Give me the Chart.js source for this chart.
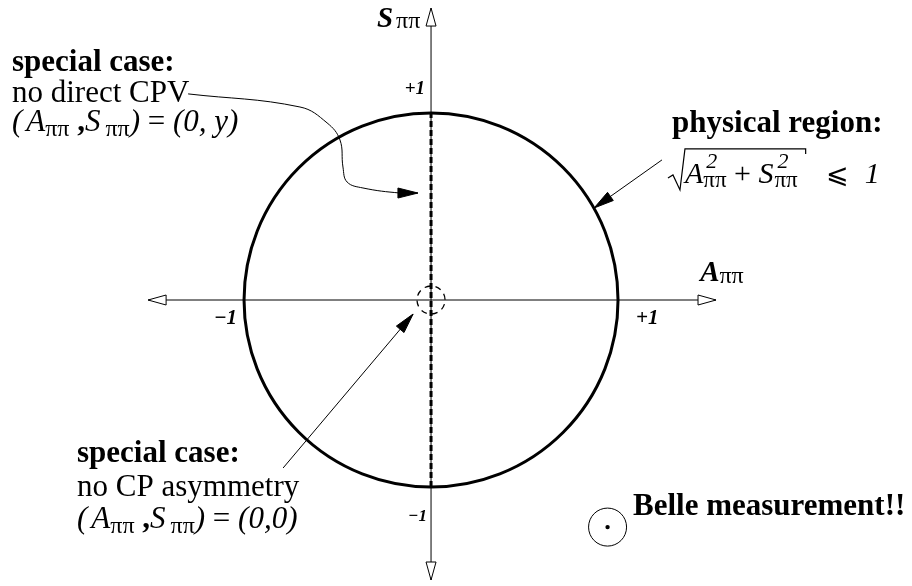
<!DOCTYPE html>
<html>
<head>
<meta charset="utf-8">
<title>A_pipi vs S_pipi</title>
<script src="https://cdn.jsdelivr.net/npm/chart.js@4.4.1/dist/chart.umd.min.js"></script>
<style>
  html, body { margin: 0; padding: 0; background: #fff; }
  #wrap { width: 912px; height: 586px; position: relative; }
</style>
</head>
<body>
<div id="wrap"><canvas id="chart"></canvas></div>
<script>
// ---- data (A_pipi on x, S_pipi on y) ----
const physicalRadius = 1;                 // sqrt(A^2 + S^2) <= 1
const axisA = [-1.513, 1.524];            // horizontal axis extent
const axisS = [-1.497, 1.561];            // vertical axis extent
const tickValues = [-1, 1];
const tickLabelsA = ['\u22121', '+1'];
const tickLabelsS = ['\u22121', '+1'];
const noDirectCpvA = [0, 0];              // (0, y) line
const noDirectCpvS = [-1, 1];
const noAsymmetryA = [0];                 // (0,0) point
const noAsymmetryS = [0];
const noAsymmetryRadius = 0.075;
const belleA = [0.944];                   // the "measurement"
const belleS = [-1.214];

// annotation arrows, in data units
const arrowCpvA = [-1.299, -0.701, -0.556, -0.487, -0.471, -0.449, -0.364, -0.166, -0.070];
const arrowCpvS = [1.102, 1.032, 0.947, 0.856, 0.711, 0.631, 0.599, 0.572, 0.572];
const arrowAsymA = [-0.791, -0.096];
const arrowAsymS = [-0.898, -0.075];
const arrowPhysA = [1.235, 0.872];
const arrowPhysS = [0.749, 0.492];

const SERIF = "'Liberation Serif', 'Times New Roman', 'DejaVu Serif', serif";

function toPts(xs, ys) { return xs.map((x, i) => ({ x: x, y: ys[i] })); }

function lineSet(xs, ys, extra) {
    return Object.assign({
        data: toPts(xs, ys),
        showLine: true,
        borderColor: '#000',
        borderWidth: 1,
        pointRadius: 0,
        fill: false,
        tension: 0
    }, extra || {});
}

// draws a list of text runs left to right, returns end x
function drawRuns(ctx, x, y, runs) {
    let cx = x;
    runs.forEach(r => {
        if (r.gap) { cx += r.gap; return; }
        if (r.stack) {
            let w = 0;
            r.stack.forEach(p => {
                ctx.font = `${p.f} ${p.s}px ${SERIF}`;
                ctx.fillText(p.t, cx + (p.dx || 0), y + p.dy);
                w = Math.max(w, ctx.measureText(p.t).width + (p.dx || 0));
            });
            cx += w;
            return;
        }
        ctx.font = `${r.f} ${r.s}px ${SERIF}`;
        ctx.fillText(r.t, cx, y + (r.dy || 0));
        cx += ctx.measureText(r.t).width;
    });
    return cx;
}

function arrowHead(ctx, from, tip, len, halfW, hollow) {
    const dx = tip[0] - from[0], dy = tip[1] - from[1];
    const d = Math.hypot(dx, dy);
    const ux = dx / d, uy = dy / d;
    const bx = tip[0] - ux * len, by = tip[1] - uy * len;
    ctx.beginPath();
    ctx.moveTo(tip[0], tip[1]);
    ctx.lineTo(bx - uy * halfW, by + ux * halfW);
    ctx.lineTo(bx + uy * halfW, by - ux * halfW);
    ctx.closePath();
    ctx.fillStyle = hollow ? '#fff' : '#000';
    ctx.fill();
    ctx.lineWidth = 1;
    ctx.strokeStyle = '#000';
    ctx.stroke();
}

const diagramPlugin = {
    id: 'diagram',
    beforeDatasetsDraw(chart) {
        const ctx = chart.ctx;
        const sx = chart.scales.x, sy = chart.scales.y;
        const cx = sx.getPixelForValue(0), cy = sy.getPixelForValue(0);
        const r = sx.getPixelForValue(physicalRadius) - cx;
        ctx.save();
        ctx.beginPath();
        ctx.arc(cx, cy, r, 0, Math.PI * 2);
        ctx.lineWidth = 3;
        ctx.strokeStyle = '#000';
        ctx.stroke();
        ctx.restore();
    },
    afterDatasetsDraw(chart) {
        const ctx = chart.ctx;
        const sx = chart.scales.x, sy = chart.scales.y;
        const P = (a, s) => [sx.getPixelForValue(a), sy.getPixelForValue(s)];
        ctx.save();

        // dashed circle around the origin
        const o = P(noAsymmetryA[0], noAsymmetryS[0]);
        const ro = sx.getPixelForValue(noAsymmetryRadius) - sx.getPixelForValue(0);
        ctx.beginPath();
        ctx.setLineDash([6, 5]);
        ctx.arc(o[0], o[1], ro, 0.3, 0.3 + Math.PI * 2);
        ctx.lineWidth = 1.3;
        ctx.strokeStyle = '#000';
        ctx.stroke();
        ctx.setLineDash([]);

        // hollow arrowheads at axis ends
        arrowHead(ctx, P(0, 0), P(axisA[0], 0), 18, 5, true);
        arrowHead(ctx, P(0, 0), P(axisA[1], 0), 18, 5, true);
        arrowHead(ctx, P(0, 0), P(0, axisS[0]), 18, 5, true);
        arrowHead(ctx, P(0, 0), P(0, axisS[1]), 18, 5, true);

        // filled arrowheads on annotation arrows
        const n = arrowCpvA.length;
        arrowHead(ctx, P(arrowCpvA[n - 2], arrowCpvS[n - 2]), P(arrowCpvA[n - 1], arrowCpvS[n - 1]), 20, 5, false);
        arrowHead(ctx, P(arrowAsymA[0], arrowAsymS[0]), P(arrowAsymA[1], arrowAsymS[1]), 20, 5, false);
        arrowHead(ctx, P(arrowPhysA[0], arrowPhysS[0]), P(arrowPhysA[1], arrowPhysS[1]), 20, 5, false);

        ctx.fillStyle = '#000';
        ctx.textBaseline = 'alphabetic';

        // tick labels
        let t = P(tickValues[0], 0);
        ctx.font = `italic bold 21px ${SERIF}`;
        ctx.textAlign = 'right';
        ctx.fillText(tickLabelsA[0], t[0] - 7, t[1] + 24);
        t = P(tickValues[1], 0);
        ctx.textAlign = 'left';
        ctx.fillText(tickLabelsA[1], t[0] + 18, t[1] + 24);
        ctx.textAlign = 'right';
        t = P(0, tickValues[1]);
        ctx.font = `italic bold 19px ${SERIF}`;
        ctx.fillText(tickLabelsS[1], t[0] - 6, t[1] - 19);
        t = P(0, tickValues[0]);
        ctx.font = `italic bold 17px ${SERIF}`;
        ctx.fillText(tickLabelsS[0], t[0] - 4, t[1] + 34);
        ctx.textAlign = 'left';

        // axis titles
        let a = P(-0.289, 1.460);
        drawRuns(ctx, a[0], a[1], [
            { t: 'S', f: 'italic bold', s: 29 }, { gap: 3 },
            { t: '\u03c0\u03c0', f: 'normal', s: 24, dy: 1 }
        ]);
        a = P(1.439, 0.102);
        drawRuns(ctx, a[0], a[1], [
            { t: 'A', f: 'italic bold', s: 29 },
            { t: '\u03c0\u03c0', f: 'normal', s: 24, dy: 2 }
        ]);

        // text blocks
        const pairRuns = (tail) => [
            { t: '(', f: 'italic', s: 31 }, { gap: 4 },
            { t: 'A', f: 'italic', s: 31 },
            { t: '\u03c0\u03c0', f: 'normal', s: 24, dy: 5 },
            { t: ' ,', f: 'bold', s: 31 },
            { t: 'S', f: 'italic', s: 31 }, { gap: 5 },
            { t: '\u03c0\u03c0', f: 'normal', s: 24, dy: 5 },
            { t: ')', f: 'italic', s: 31 },
            { t: ' = ', f: 'normal', s: 31 },
            { t: tail, f: 'italic', s: 31 }
        ];

        a = P(-2.241, 1.225);
        drawRuns(ctx, a[0], a[1], [{ t: 'special case:', f: 'bold', s: 31 }]);
        a = P(-2.241, 1.059);
        drawRuns(ctx, a[0], a[1], [{ t: 'no direct CPV', f: 'normal', s: 31 }]);
        a = P(-2.241, 0.904);
        drawRuns(ctx, a[0], a[1], pairRuns('(0, y)'));

        a = P(-1.893, -0.866);
        drawRuns(ctx, a[0], a[1], [{ t: 'special case:', f: 'bold', s: 31 }]);
        a = P(-1.893, -1.048);
        drawRuns(ctx, a[0], a[1], [{ t: 'no CP asymmetry', f: 'normal', s: 31 }]);
        a = P(-1.893, -1.219);
        drawRuns(ctx, a[0], a[1], pairRuns('(0,0)'));

        a = P(1.289, 0.898);
        drawRuns(ctx, a[0], a[1], [{ t: 'physical region:', f: 'bold', s: 31 }]);

        // sqrt(A^2 + S^2) <= 1
        a = P(1.267, 0.626);
        const x0 = a[0], y0 = a[1];
        const stack = [
            { t: '2', f: 'italic', s: 22, dy: -15, dx: 3 },
            { t: '\u03c0\u03c0', f: 'normal', s: 23, dy: 4 }
        ];
        const xEnd = drawRuns(ctx, x0 + 17, y0, [
            { t: 'A', f: 'italic', s: 30 },
            { stack: stack },
            { t: ' + ', f: 'normal', s: 30 },
            { t: 'S', f: 'italic', s: 30 }, { gap: 1 },
            { stack: stack }
        ]) + 8;
        ctx.beginPath();
        ctx.moveTo(x0, y0 - 5);
        ctx.lineTo(x0 + 5, y0 - 8);
        ctx.lineTo(x0 + 12, y0 + 7);
        ctx.lineTo(x0 + 17, y0 - 34);
        ctx.lineTo(xEnd, y0 - 34);
        ctx.lineTo(xEnd, y0 - 29);
        ctx.lineWidth = 1.2;
        ctx.stroke();
        drawRuns(ctx, xEnd + 20, y0, [
            { t: '\u2a7d', f: 'normal', s: 27 }, { gap: 16 },
            { t: '1', f: 'italic', s: 30 }
        ]);

        a = P(1.080, -1.150);
        drawRuns(ctx, a[0], a[1], [{ t: 'Belle measurement!!', f: 'bold', s: 31 }]);

        ctx.restore();
    }
};

new Chart(document.getElementById('chart'), {
    type: 'scatter',
    data: {
        datasets: [
            lineSet(axisA, [0, 0]),
            lineSet([0, 0], axisS),
            lineSet(noDirectCpvA, noDirectCpvS, { borderWidth: 3, borderDash: [6, 3] }),
            lineSet(arrowCpvA, arrowCpvS, { tension: 0.4 }),
            lineSet(arrowAsymA, arrowAsymS),
            lineSet(arrowPhysA, arrowPhysS),
            {
                data: toPts(belleA, belleS),
                pointRadius: 19,
                pointBorderWidth: 1,
                pointBorderColor: '#000',
                pointBackgroundColor: 'rgba(0,0,0,0)'
            },
            {
                data: toPts(belleA, belleS),
                pointRadius: 2.2,
                pointBorderWidth: 0,
                pointBackgroundColor: '#000'
            }
        ]
    },
    options: {
        responsive: true,
        maintainAspectRatio: false,
        devicePixelRatio: 1,
        animation: false,
        layout: { padding: 0, autoPadding: false },
        plugins: { legend: { display: false }, tooltip: { enabled: false } },
        scales: {
            x: { type: 'linear', min: -2.305, max: 2.572, display: false },
            y: { type: 'linear', min: -1.529, max: 1.604, display: false }
        },
        elements: { line: { clip: false } }
    },
    plugins: [diagramPlugin]
});
</script>
</body>
</html>
